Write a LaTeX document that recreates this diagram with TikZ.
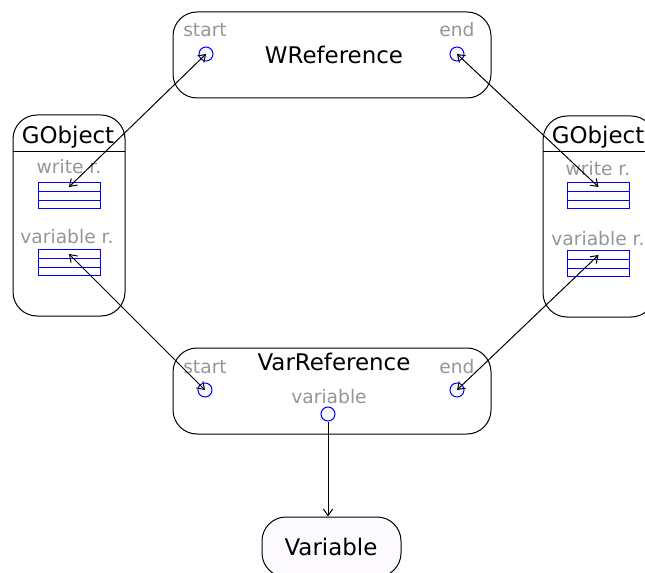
\documentclass[tikz,border=0pt]{standalone}
\usepackage{fontspec}
\setmainfont{DejaVu Sans}
\usetikzlibrary{arrows.meta,calc}
\definecolor{lblgray}{RGB}{150,150,150}
\definecolor{portblue}{RGB}{0,0,255}
\definecolor{portfill}{RGB}{248,246,255}
\definecolor{varfill}{RGB}{253,250,255}
\tikzset{
  classbox/.style={draw=black, line width=0.75pt, rounded corners=18pt, inner sep=0pt},
  title/.style={font=\fontsize{17.2pt}{20pt}\selectfont, text=black, inner sep=0pt},
  lbl/.style={font=\fontsize{14pt}{16pt}\selectfont, text=lblgray, inner sep=0pt},
  port/.style={circle, draw=portblue, fill=portfill, line width=0.75pt, minimum size=10.5pt, inner sep=0pt},
  list/.style={draw=portblue, line width=0.75pt, minimum width=46.5pt, minimum height=19.5pt, inner sep=0pt},
  rowline/.style={draw=portblue, line width=0.75pt},
  ref/.style={draw=black, line width=0.75pt, {Straight Barb[length=5pt,width=7pt]}-{Straight Barb[length=5pt,width=7pt]}},
  uni/.style={draw=black, line width=0.75pt, -{Straight Barb[length=5pt,width=7pt]}},
}
\newcommand{\listrows}[1]{%
  \draw[rowline] ($(#1.north west)!1/3!(#1.south west)$) -- ($(#1.north east)!1/3!(#1.south east)$);
  \draw[rowline] ($(#1.north west)!2/3!(#1.south west)$) -- ($(#1.north east)!2/3!(#1.south east)$);
  \coordinate (#1-r1) at ($(#1.north)!1/6!(#1.south)$);
}
\begin{document}
\begin{tikzpicture}[x=0.75pt,y=-0.75pt]
\useasboundingbox (0,0) rectangle (645,573);
\clip (0,0) rectangle (645,573);

% WReference
\node[classbox, minimum width=238.5pt, minimum height=64.5pt] (wref) at (332,55) {};
\node[title] (wreftitle) at (334,55) {WReference};
\node[port] (wstart) at (206,54) {};
\node[lbl] (wstartlbl) at (205,30) {start};
\node[port] (wend) at (457,54) {};
\node[lbl] (wendlbl) at (457,30) {end};

% VarReference
\node[classbox, minimum width=238.5pt, minimum height=64.5pt] (vref) at (332,391) {};
\node[title] (vreftitle) at (334,362) {VarReference};
\node[port] (vstart) at (205,390) {};
\node[lbl] (vstartlbl) at (205,367) {start};
\node[port] (vend) at (457,390) {};
\node[lbl] (vendlbl) at (457,367) {end};
\node[port] (vvar) at (328,414) {};
\node[lbl] (vvarlbl) at (329,397) {variable};

% left GObject
\node[classbox, minimum width=84pt, minimum height=150.75pt] (gl) at (69,215.5) {};
\draw[line width=0.75pt] (13,152) -- (125,152);
\node[title] (gltitle) at (68,137) {GObject};
\node[lbl] (glw) at (69,167) {write r.};
\node[list] (glwlist) at (69,196) {};
\listrows{glwlist}
\node[lbl] (glv) at (67,237) {variable r.};
\node[list] (glvlist) at (69,263) {};
\listrows{glvlist}

% right GObject
\node[classbox, minimum width=84pt, minimum height=150.75pt] (gr) at (599,216.5) {};
\draw[line width=0.75pt] (543,152) -- (655,152);
\node[title] (grtitle) at (598,137) {GObject};
\node[lbl] (grw) at (598,169) {write r.};
\node[list] (grwlist) at (598.5,196) {};
\listrows{grwlist}
\node[lbl] (grv) at (598,239) {variable r.};
\node[list] (grvlist) at (598.5,264) {};
\listrows{grvlist}

% Variable
\node[classbox, fill=varfill, minimum width=104.25pt, minimum height=45pt] (var) at (331.5,547) {};
\node[title] (vartitle) at (331,547) {Variable};

% references
\draw[ref] (wstart.center) -- (glwlist-r1);
\draw[ref] (wend.center) -- (grwlist-r1);
\draw[ref] (glvlist-r1) -- (vstart.center);
\draw[ref] (grvlist-r1) -- (vend.center);
\draw[uni] (vvar.south) -- (vvar.south |- var.north);
\end{tikzpicture}
\end{document}
